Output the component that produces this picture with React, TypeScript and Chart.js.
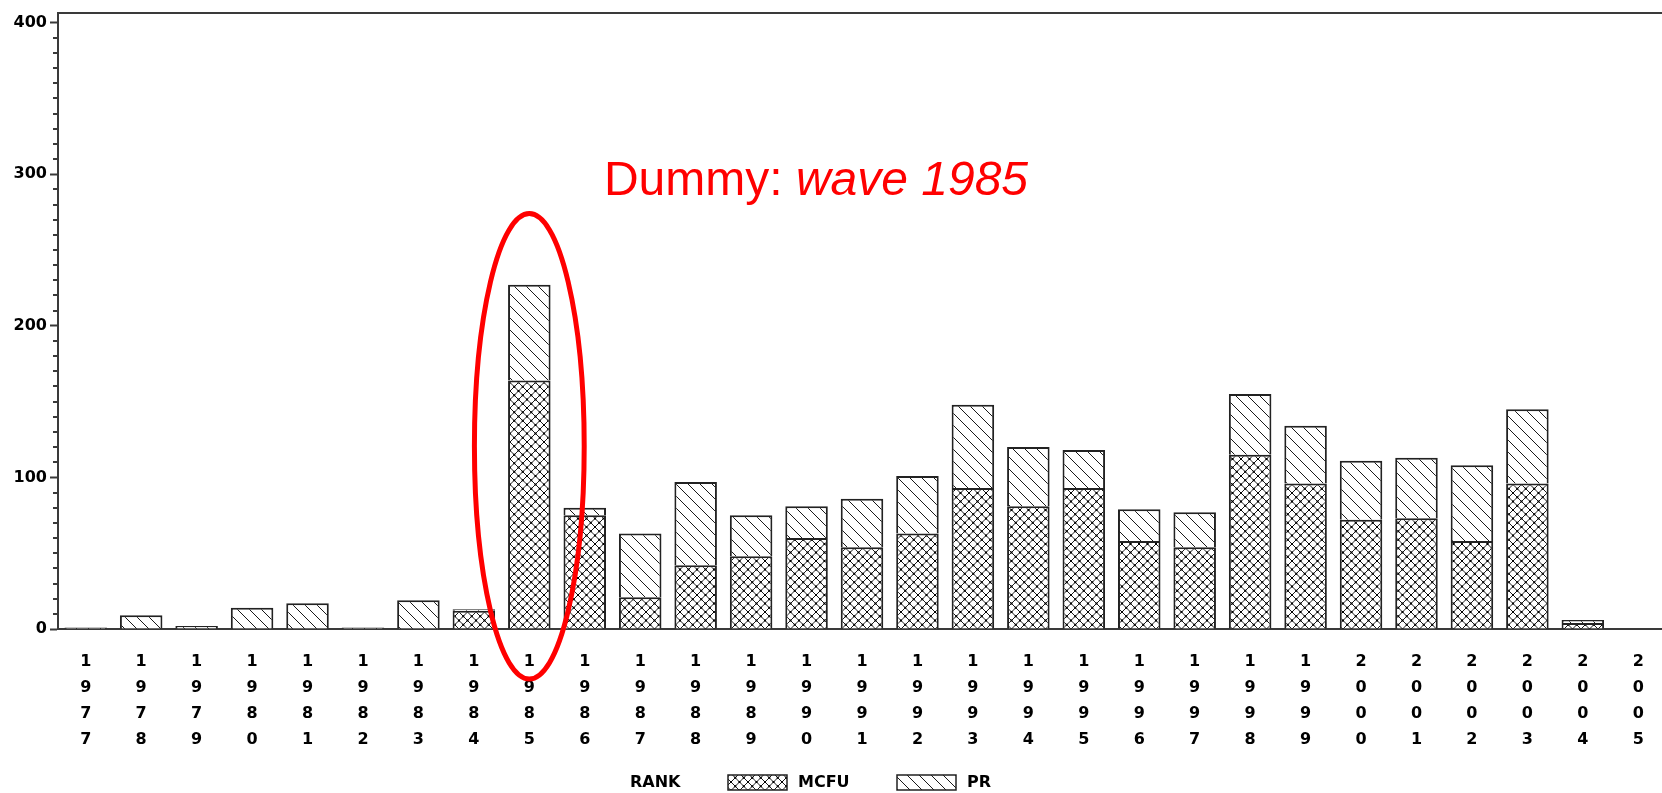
import { useEffect, useRef } from 'react';
import { Chart, registerables } from 'chart.js';

Chart.register(...registerables);

// ---- data ----
const YEARS = ['1977', '1978', '1979', '1980', '1981', '1982', '1983', '1984', '1985', '1986', '1987', '1988', '1989', '1990', '1991', '1992', '1993', '1994', '1995', '1996', '1997', '1998', '1999', '2000', '2001', '2002', '2003', '2004', '2005'];
const MCFU = [0, 0, 0, 0, 0, 0, 0, 12, 164, 75, 21, 42, 48, 60, 54, 63, 93, 81, 93, 58, 54, 115, 96, 72, 73, 58, 96, 4, 0];
const PR = [1, 9, 2, 14, 17, 1, 19, 1, 63, 5, 42, 55, 27, 21, 32, 38, 55, 39, 25, 21, 23, 40, 38, 39, 40, 50, 49, 2, 0];
const SERIES_NAMES = ['MCFU', 'PR'];
const LEGEND_TITLE = 'RANK';
const Y_MAX = 406.6;
const Y_MAJOR = 100;
const Y_MINOR = 10;
const NOTE_NORMAL = 'Dummy: ';
const NOTE_ITALIC = 'wave 1985';
const NOTE_YEAR_INDEX = 8; // 1985
const ELLIPSE_TOP = 274;
const ELLIPSE_BOTTOM = -33;

const LABEL_FONT = '"DejaVu Sans", "Liberation Sans", Arial, sans-serif';
const INK = '#1a1a1a';
const AXIS = '#3a3a3a';

function crossPattern(): CanvasPattern | string {
  const s = 17;
  const p = 8.5;
  const c = document.createElement('canvas');
  c.width = s; c.height = s;
  const g = c.getContext('2d');
  if (!g) return '#fff';
  g.fillStyle = '#fff';
  g.fillRect(0, 0, s, s);
  g.strokeStyle = INK;
  g.lineWidth = 1;
  g.beginPath();
  for (const o of [-17, -8.5, 0, 8.5, 17]) { g.moveTo(o, 0); g.lineTo(o + s, s); }
  for (const o of [0, 8.5, 17, 25.5, 34]) { g.moveTo(o, 0); g.lineTo(o - s, s); }
  g.stroke();
  g.fillStyle = '#000';
  for (let x = 0; x <= s; x += p / 2) {
    for (let y = 0; y <= s; y += p / 2) {
      const k = Math.round((x + y) / (p / 2));
      if (k % 2 === 0) g.fillRect(x - 1, y - 1, 2, 2);
    }
  }
  const pat = g.createPattern(c, 'repeat');
  return pat || '#fff';
}

function diagPattern(): CanvasPattern | string {
  const s = 12;
  const c = document.createElement('canvas');
  c.width = s; c.height = s;
  const g = c.getContext('2d');
  if (!g) return '#fff';
  g.fillStyle = '#fff';
  g.fillRect(0, 0, s, s);
  g.strokeStyle = INK;
  g.lineWidth = 1;
  g.beginPath();
  for (const o of [-s, 0, s]) { g.moveTo(o, 0); g.lineTo(o + s, s); }
  g.stroke();
  const pat = g.createPattern(c, 'repeat');
  return pat || '#fff';
}

export default function App() {
  const ref = useRef<HTMLCanvasElement | null>(null);

  useEffect(() => {
    const canvas = ref.current;
    if (!canvas) return;
    const cross = crossPattern();
    const diag = diagPattern();

    const minorTicks = {
      id: 'minorTicks',
      afterDraw(chart: any) {
        const y = chart.scales.y;
        const ctx = chart.ctx;
        ctx.save();
        ctx.strokeStyle = AXIS;
        ctx.lineWidth = 2;
        ctx.beginPath();
        for (let v = 0; v <= 400; v += Y_MINOR) {
          if (v % Y_MAJOR === 0) continue;
          const py = Math.round(y.getPixelForValue(v));
          ctx.moveTo(y.right - 5, py);
          ctx.lineTo(y.right, py);
        }
        ctx.stroke();
        ctx.restore();
      },
    };

    const annotation = {
      id: 'annotation',
      afterDraw(chart: any) {
        const x = chart.scales.x;
        const y = chart.scales.y;
        const ctx = chart.ctx;
        ctx.save();
        const cx = x.getPixelForValue(NOTE_YEAR_INDEX);
        const w = x.getPixelForValue(1) - x.getPixelForValue(0);
        const top = y.getPixelForValue(ELLIPSE_TOP);
        const bot = y.getPixelForValue(ELLIPSE_BOTTOM);
        ctx.strokeStyle = '#ff0000';
        ctx.lineWidth = 5;
        ctx.beginPath();
        ctx.ellipse(cx, (top + bot) / 2, w * 0.99, (bot - top) / 2, 0, 0, Math.PI * 2);
        ctx.stroke();
        ctx.fillStyle = '#ff0000';
        ctx.textBaseline = 'alphabetic';
        ctx.textAlign = 'left';
        const tx = x.getPixelForValue(9.345);
        const ty = y.getPixelForValue(286);
        ctx.font = '48px "Liberation Sans", Arial, sans-serif';
        ctx.fillText(NOTE_NORMAL, tx, ty);
        const w1 = ctx.measureText(NOTE_NORMAL).width;
        ctx.font = 'italic 48px "Liberation Sans", Arial, sans-serif';
        ctx.fillText(NOTE_ITALIC, tx + w1, ty);
        ctx.restore();
      },
    };

    const legend = {
      id: 'patternLegend',
      afterDraw(chart: any) {
        const ctx = chart.ctx;
        ctx.save();
        ctx.font = 'bold 16px ' + LABEL_FONT;
        ctx.fillStyle = '#000';
        ctx.textBaseline = 'middle';
        ctx.textAlign = 'left';
        const cy = 783;
        ctx.fillText(LEGEND_TITLE, 630, cy);
        const items = [
          { x: 728, fill: cross, text: SERIES_NAMES[0] },
          { x: 897, fill: diag, text: SERIES_NAMES[1] },
        ];
        for (const it of items) {
          ctx.fillStyle = it.fill as any;
          ctx.fillRect(it.x, 775, 59, 15);
          ctx.strokeStyle = '#222';
          ctx.lineWidth = 1.5;
          ctx.strokeRect(it.x, 775, 59, 15);
          ctx.fillStyle = '#000';
          ctx.fillText(it.text, it.x + 70, cy);
        }
        ctx.restore();
      },
    };

    const chart = new Chart(canvas, {
      type: 'bar',
      data: {
        labels: YEARS,
        datasets: [
          {
            label: SERIES_NAMES[0],
            data: MCFU,
            backgroundColor: cross as any,
            borderColor: '#222',
            borderWidth: 2,
            barPercentage: 0.767,
            categoryPercentage: 1,
          },
          {
            label: SERIES_NAMES[1],
            data: PR,
            backgroundColor: diag as any,
            borderColor: '#222',
            borderWidth: 2,
            barPercentage: 0.767,
            categoryPercentage: 1,
          },
        ],
      },
      options: {
        animation: false,
        responsive: true,
        maintainAspectRatio: false,
        layout: { padding: { top: 11, left: 0, right: 0, bottom: 0 } },
        plugins: {
          legend: { display: false },
          tooltip: { enabled: false },
          title: { display: false },
        },
        scales: {
          x: {
            stacked: true,
            position: 'bottom',
            grid: { display: true, drawOnChartArea: false, drawTicks: false },
            border: { display: true, color: AXIS, width: 2 },
            ticks: {
              autoSkip: false,
              maxRotation: 0,
              minRotation: 0,
              padding: 20,
              color: '#000',
              font: { family: LABEL_FONT, size: 16, weight: 'bold', lineHeight: 1.625 },
              callback: (_v: any, i: number) => YEARS[i].split(''),
            },
            afterFit: (s: any) => { s.height = 164; },
          },
          x2: {
            type: 'category',
            position: 'top',
            grid: { display: true, drawOnChartArea: false, drawTicks: false },
            border: { display: true, color: AXIS, width: 2 },
            ticks: { display: false },
            afterFit: (s: any) => { s.height = 0; },
          },
          y: {
            stacked: true,
            min: 0,
            max: Y_MAX,
            grid: {
              display: true,
              drawOnChartArea: false,
              drawTicks: true,
              tickLength: 8,
              tickWidth: 2,
              tickColor: (c: any) => (c.tick && c.tick.value % Y_MAJOR === 0 ? AXIS : 'rgba(0,0,0,0)'),
            },
            border: { display: true, color: AXIS, width: 2 },
            ticks: {
              stepSize: Y_MINOR,
              autoSkip: false,
              includeBounds: false,
              padding: 3,
              color: '#000',
              font: { family: LABEL_FONT, size: 16, weight: 'bold' },
              callback: (v: any) => (Number(v) % Y_MAJOR === 0 ? String(v) : ''),
            },
            afterFit: (s: any) => { s.width = 58; },
          },
        },
      } as any,
      plugins: [minorTicks, annotation, legend],
    });

    return () => chart.destroy();
  }, []);

  return (
    <div style={{ position: 'fixed', left: 0, top: 0, width: 1666, height: 793, background: '#fff' }}>
      <canvas ref={ref} />
    </div>
  );
}
